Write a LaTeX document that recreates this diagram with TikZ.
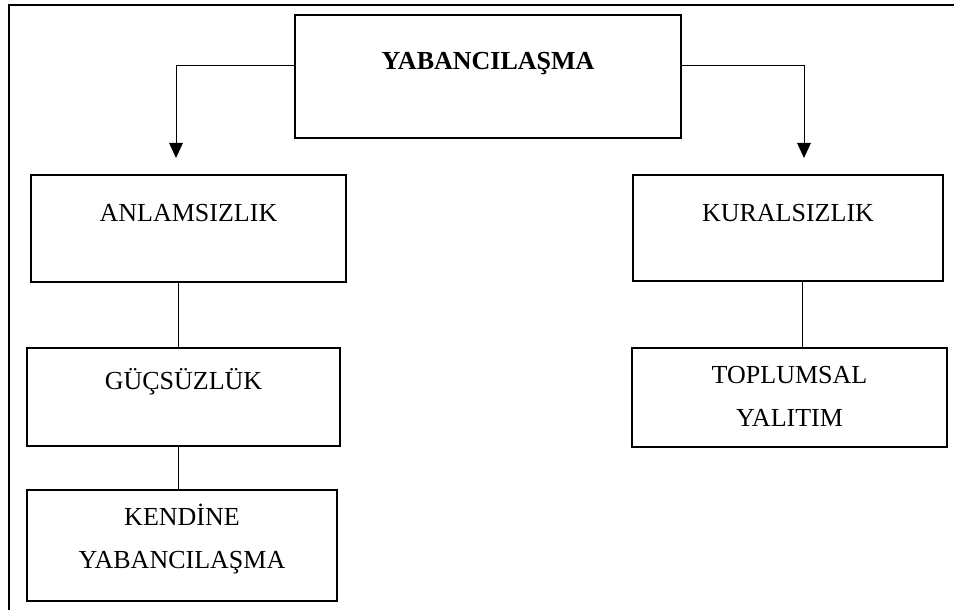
\documentclass[tikz,border=0pt]{standalone}
\usepackage{fontspec}
\setmainfont{Liberation Serif}
\usetikzlibrary{arrows.meta}
\begin{document}
\begin{tikzpicture}[x=0.5pt,y=-0.5pt,
		kutu/.style={draw,line width=1.35pt,inner sep=0pt,outer sep=0pt,anchor=north west,align=center,font=\fontsize{13}{21.5}\selectfont},
		hat/.style={line width=0.5pt},
		ok/.style={hat,-{Triangle[length=7.5pt,width=6.8pt]}}]
		\useasboundingbox (0,0) rectangle (954,610);
		\draw[line width=0.7pt](9,610)--(9,5)--(954,5);
		
		\node[kutu,minimum width=193pt,text height=27.5pt,text depth=34pt,font=\fontsize{13}{21.5}\selectfont\bfseries] (yab) at (295,15){YABANCILAŞMA};
		
		\node[kutu,minimum width=157.5pt,text height=23pt,text depth=30.5pt] (anl) at (31,175){ANLAMSIZLIK};
		\node[kutu,minimum width=155pt,text height=23pt,text depth=30pt] (kur) at (633,175){KURALSIZLIK};
		
		\node[kutu,minimum width=156.5pt,text height=20.5pt,text depth=28.5pt] (guc) at (27,348){GÜÇSÜZLÜK};
		\node[kutu,minimum width=157.5pt,text height=39pt,text depth=10.5pt] (top) at (632,348){TOPLUMSAL\\YALITIM};
		
		\node[kutu,minimum width=155pt,text height=39pt,text depth=16.5pt] (ken) at (27,490){KENDİNE\\YABANCILAŞMA};
		
		\coordinate (solok) at (176,158);
		\coordinate (sagok) at (804,158);
		\coordinate (solhat) at (178,0);
		\coordinate (saghat) at (802,0);
		
		\draw[ok](yab.mid west)-|(solok);
		\draw[ok](yab.mid east)-|(sagok);
		
		\draw[hat](anl.south-|solhat)--(guc.north-|solhat);
		\draw[hat](guc.south-|solhat)--(ken.north-|solhat);
		\draw[hat](kur.south-|saghat)--(top.north-|saghat);
\end{tikzpicture}
\end{document}
